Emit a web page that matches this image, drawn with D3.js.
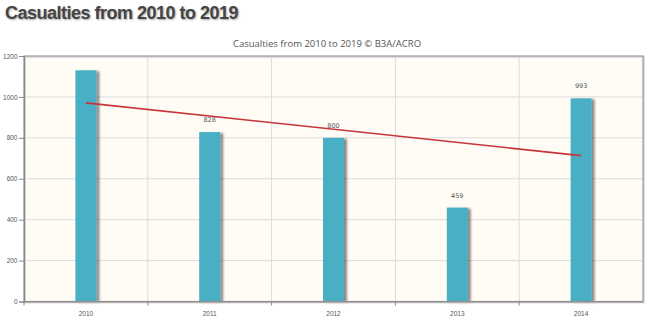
<!DOCTYPE html>
<html>
<head>
<meta charset="utf-8">
<script src="https://cdn.jsdelivr.net/npm/d3@7"></script>
<style>
  body { margin: 0; background: #fff; }
  .ttl { font-family: "Liberation Sans", Arial, sans-serif; font-weight: bold; }
</style>
</head>
<body>
<div id="chart"></div>
<script>
// chart values
const years = ["2010", "2011", "2012", "2013", "2014"];
const casualties = [1130, 828, 800, 459, 993];
const shownLabels = [false, true, true, true, true];
const trendEnds = [971, 713]; // linear trend at first and last year
const yTicks = [0, 200, 400, 600, 800, 1000, 1200];

const W = 650, H = 323;
const m = { left: 24, right: 7, top: 56, bottom: 21.5 };
const w = W - m.left - m.right;
const h = H - m.top - m.bottom;

const svg = d3.select("#chart").append("svg")
  .attr("width", W).attr("height", H);

const defs = svg.append("defs");
const f = defs.append("filter").attr("id", "shadow")
  .attr("x", "-20%").attr("y", "-20%").attr("width", "160%").attr("height", "140%");
f.append("feOffset").attr("in", "SourceAlpha").attr("dx", 3).attr("dy", 1).attr("result", "o");
f.append("feGaussianBlur").attr("in", "o").attr("stdDeviation", 1.2).attr("result", "b");
f.append("feComponentTransfer").attr("in", "b").attr("result", "c")
  .append("feFuncA").attr("type", "linear").attr("slope", 0.45);
const mg = f.append("feMerge");
mg.append("feMergeNode").attr("in", "c");
mg.append("feMergeNode").attr("in", "SourceGraphic");

// big page title
svg.append("text")
  .attr("class", "ttl")
  .attr("x", 5).attr("y", 19)
  .attr("font-size", 18)
  .attr("letter-spacing", -0.5)
  .attr("fill", "#444")
  .style("text-shadow", "1px 1px 2px rgba(0,0,0,0.35)")
  .text("Casualties from 2010 to 2019");

// chart subtitle
svg.append("text")
  .attr("x", 327).attr("y", 47)
  .attr("text-anchor", "middle")
  .attr("font-family", "'Open Sans', sans-serif")
  .attr("font-size", 9.5)
  .attr("fill", "#555")
  .text("Casualties from 2010 to 2019 © B3A/ACRO");

const g = svg.append("g").attr("transform", `translate(${m.left},${m.top})`);

const x = d3.scaleBand().domain(years).range([0, w]);
const y = d3.scaleLinear().domain([0, 1200]).range([h, 0]);

// plot background
g.append("rect").attr("width", w).attr("height", h).attr("fill", "#fffcf5");

// grid
g.selectAll(".hg").data(yTicks.slice(1, -1)).enter().append("line")
  .attr("x1", 0).attr("x2", w)
  .attr("y1", d => y(d)).attr("y2", d => y(d))
  .attr("stroke", "#dcdcdc").attr("stroke-width", 1);
g.selectAll(".vg").data(years.slice(1)).enter().append("line")
  .attr("x1", d => x(d)).attr("x2", d => x(d))
  .attr("y1", 0).attr("y2", h)
  .attr("stroke", "#dcdcdc").attr("stroke-width", 1);

// bars
const bw = 21;
g.selectAll(".bar").data(casualties).enter().append("rect")
  .attr("x", (d, i) => x(years[i]) + x.bandwidth() / 2 - bw / 2)
  .attr("y", d => y(d))
  .attr("width", bw)
  .attr("height", d => h - y(d))
  .attr("fill", "#4aafc5")
  .attr("filter", "url(#shadow)");

// value labels
g.selectAll(".lbl").data(casualties).enter().filter((d, i) => shownLabels[i])
  .append("text")
  .attr("x", (d, i) => x(years[casualties.indexOf(d)]) + x.bandwidth() / 2)
  .attr("y", d => y(d) - 10)
  .attr("text-anchor", "middle")
  .attr("font-family", "'DejaVu Sans', sans-serif")
  .attr("font-size", 6.5)
  .attr("fill", "#555")
  .text(d => d);

// trend line
g.append("line")
  .attr("x1", x(years[0]) + x.bandwidth() / 2)
  .attr("x2", x(years[years.length - 1]) + x.bandwidth() / 2)
  .attr("y1", y(trendEnds[0])).attr("y2", y(trendEnds[1]))
  .attr("stroke", "#c8343a").attr("stroke-width", 1.6);

// frame: light shadowed border
g.append("rect").attr("x", 1).attr("y", 1).attr("width", w).attr("height", h)
  .attr("fill", "none").attr("stroke", "#ddd").attr("stroke-width", 2);
g.append("rect").attr("width", w).attr("height", h)
  .attr("fill", "none").attr("stroke", "#999").attr("stroke-width", 1.2);

// axes
const yAxis = g.append("g")
  .call(d3.axisLeft(y).tickValues(yTicks).tickFormat(d3.format("d"))
    .tickSize(5).tickPadding(1.5));
const xAxis = g.append("g").attr("transform", `translate(0,${h})`)
  .call(d3.axisBottom(x).tickSize(0).tickPadding(10));
[yAxis, xAxis].forEach(a => {
  a.select(".domain").attr("stroke", "#888").attr("stroke-width", 1.2);
  a.selectAll(".tick line").attr("stroke", "#888");
  a.selectAll("text").attr("font-family", "'Liberation Sans', sans-serif")
    .attr("font-size", 6.5).attr("fill", "#555");
});
xAxis.selectAll(".tick").append("line")
  .attr("x1", -x.bandwidth() / 2).attr("x2", -x.bandwidth() / 2)
  .attr("y1", 0).attr("y2", 4).attr("stroke", "#888");
</script>
</body>
</html>
